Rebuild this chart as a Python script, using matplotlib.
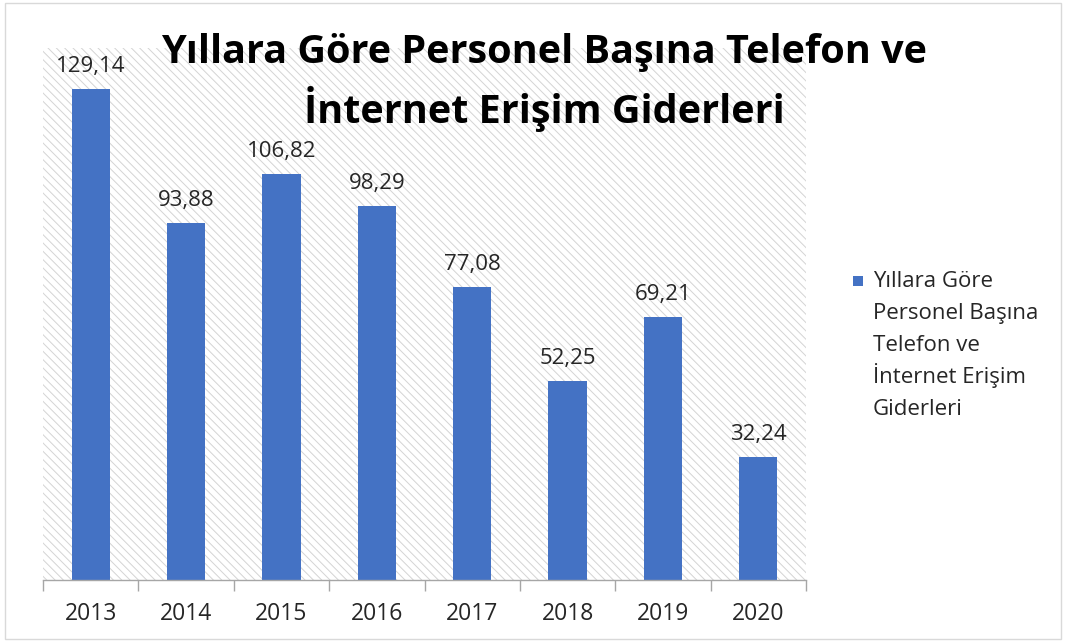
#!/usr/bin/env python
#
# Yillara gore personel basina telefon ve internet erisim giderleri
#

import matplotlib
matplotlib.use("Agg")
import matplotlib.pyplot as plt
from matplotlib.patches import Rectangle

years = ["2013", "2014", "2015", "2016", "2017", "2018", "2019", "2020"]
values = [129.14, 93.88, 106.82, 98.29, 77.08, 52.25, 69.21, 32.24]

title = "Yıllara Göre Personel Başına Telefon ve\nİnternet Erişim Giderleri"
legend_lines = ["Yıllara Göre", "Personel Başına", "Telefon ve", "İnternet Erişim", "Giderleri"]

BAR_COLOR = "#4472C4"
HATCH_COLOR = "#d4d4d4"
FONT = ["Open Sans", "DejaVu Sans"]
W, H = 1068.0, 641.0

plt.rcParams["font.family"] = FONT
plt.rcParams["hatch.linewidth"] = 0.7


def main():
  fig = plt.figure(figsize=(10.68, 6.41), dpi=100)
  ax = fig.add_axes([43 / W, 1 - 580 / H, 763 / W, 532 / H])

  x = list(range(len(years)))

  # hatched plot area background
  ax.add_patch(Rectangle((0, 0), 1, 1, transform=ax.transAxes, facecolor="white",
                         edgecolor=HATCH_COLOR, linewidth=0, hatch="\\\\\\\\", zorder=0))

  bars = ax.bar(x, values, width=0.4, color=BAR_COLOR, zorder=2)

  for b, v in zip(bars, values):
    ax.annotate(("%.2f" % v).replace(".", ","),
                (b.get_x() + b.get_width() / 2, v),
                xytext=(0, 9), textcoords="offset points",
                ha="center", va="bottom", fontsize=16, color="#262626")

  ax.set_xlim(-0.5, len(years) - 0.5)
  ax.set_ylim(0, 140)

  ax.set_xticks(x)
  ax.set_xticklabels(years, fontsize=16.5, color="#262626")
  ax.tick_params(axis="x", which="major", length=0, pad=16)
  ax.set_xticks([i - 0.5 for i in range(len(years) + 1)], minor=True)
  ax.tick_params(axis="x", which="minor", length=8, width=1, color="#a6a6a6", direction="out")
  ax.set_yticks([])

  for s in ["top", "right", "left"]:
    ax.spines[s].set_visible(False)
  ax.spines["bottom"].set_color("#a6a6a6")
  ax.spines["bottom"].set_linewidth(1)
  ax.spines["bottom"].set_zorder(3)

  # two title lines placed on their own baselines
  title_lines = title.split("\n")
  for i, line in enumerate(title_lines):
    fig.text(544 / W, 1 - (63 + 60 * i) / H, line, ha="center", va="baseline",
             fontsize=28.5, fontweight="bold", color="black")

  # legend drawn by hand so the marker sits on the first line
  fig.patches.append(Rectangle((853 / W, 1 - 286 / H), 10 / W, 10 / H,
                               transform=fig.transFigure, facecolor=BAR_COLOR,
                               edgecolor="none"))
  for i, line in enumerate(legend_lines):
    fig.text(873 / W, 1 - (287 + 32 * i) / H, line, ha="left", va="baseline",
             fontsize=16, color="#262626")

  # light outer frame
  fig.patches.append(Rectangle((5 / W, 2 / H), 1056 / W, 636 / H,
                               transform=fig.transFigure, facecolor="none",
                               edgecolor="#d9d9d9", linewidth=1))

  fig.savefig("out.png", dpi=100)


if __name__ == "__main__":
  main()
